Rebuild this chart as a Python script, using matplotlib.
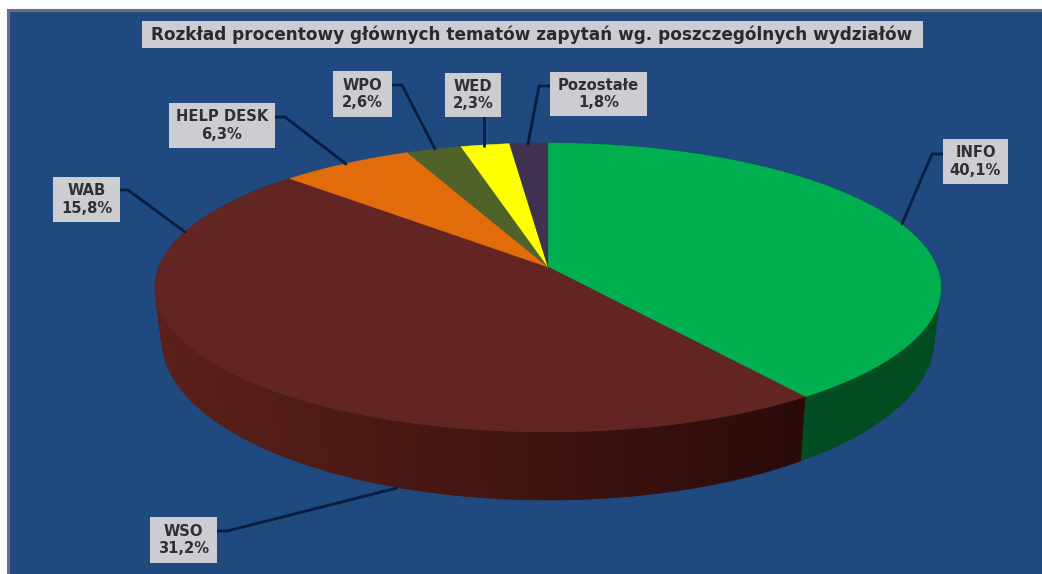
import numpy as np
import matplotlib
matplotlib.use("Agg")
import matplotlib.pyplot as plt
from matplotlib.patches import Polygon, Rectangle

categories = ["INFO", "WSO", "WAB", "HELP DESK", "WPO", "WED", "Pozostałe"]
values = [40.1, 31.2, 15.8, 6.3, 2.6, 2.3, 1.8]
value_labels = ["40,1%", "31,2%", "15,8%", "6,3%", "2,6%", "2,3%", "1,8%"]
top_colors = ["#00b050", "#632523", "#632523", "#e36c0a", "#4f6228", "#ffff00", "#3f3151"]
side_colors = ["#024d22", "#4a1814", "#5a1f19", "#8a4206", "#2f3b18", "#999900", "#261e31"]
title = "Rozkład procentowy głównych tematów zapytań wg. poszczególnych wydziałów"

W, H = 1042, 574
BG = "#1f497f"
fig = plt.figure(figsize=(W / 100, H / 100), dpi=100, facecolor="white")
ax = fig.add_axes([0, 0, 1, 1])
ax.set_xlim(0, W)
ax.set_ylim(H, 0)
ax.axis("off")
ax.add_patch(Rectangle((8, 10), W + 20, H + 20, fc=BG, ec="#6b6f78", lw=2.2, zorder=0))

CX, A = 548, -0.142
TOP = (393, 287.5, 144.5)
BOT = (386, 340, 160)


def project(theta, ell):
    rx, cy, ry = ell
    u, v = np.sin(theta), -np.cos(theta)
    d = 1 + A * v
    return CX + rx * u * np.sqrt(1 - A * A) / d, cy + ry * (v + A) / d


fractions = np.array(values) / sum(values)
edges = np.concatenate([[0], np.cumsum(fractions)]) * 2 * np.pi
apex = (CX, 287.5 + 144.5 * A)

# side wall: front half only, shaded along the arc
for i in [0, 2, 1]:
    ts = np.linspace(edges[i], edges[i + 1], 60)
    for t0, t1 in zip(ts[:-1], ts[1:]):
        x0, y0 = project(t0, TOP)
        x1, y1 = project(t1, TOP)
        x2, y2 = project(t1, BOT)
        x3, y3 = project(t0, BOT)
        if i == 0:
            col = np.array(matplotlib.colors.to_rgb(side_colors[0]))
        else:
            s = np.clip((x0 - 160) / 640, 0, 1)
            col = (1 - s) * np.array([0.36, 0.125, 0.10]) + s * np.array([0.17, 0.045, 0.04])
        ax.add_patch(Polygon([(x0, y0), (x1, y1), (x2, y2), (x3, y3)], fc=col, ec=col, lw=0.5, zorder=1))

# top face
for i, c in enumerate(top_colors):
    ts = np.linspace(edges[i], edges[i + 1], 120)
    px, py = project(ts, TOP)
    ax.add_patch(Polygon([apex] + list(zip(px, py)), fc=c, ec=c, lw=0.3, zorder=2))

line = "#0b1c42"
leaders = {
    "INFO": [(943, 154), (932, 154), (902, 224)],
    "WSO": [(217, 531), (227, 531), (397, 488)],
    "WAB": [(121, 190), (128, 190), (185, 232)],
    "HELP DESK": [(275, 117), (285, 117), (346, 164)],
    "WPO": [(392, 85), (402, 85), (435, 149)],
    "WED": [(484, 117), (484, 146)],
    "Pozostałe": [(550, 86), (539, 86), (528, 144)],
}
boxes = {
    "INFO": (943, 139, 1008, 184),
    "WSO": (150, 517, 217, 563),
    "WAB": (53, 177, 120, 222),
    "HELP DESK": (169, 103, 275, 148),
    "WPO": (333, 71, 392, 117),
    "WED": (445, 73, 501, 117),
    "Pozostałe": (550, 72, 647, 116),
}
FONT = ["DejaVu Sans"]
for name, val in zip(categories, value_labels):
    xs, ys = zip(*leaders[name])
    ax.plot(xs, ys, color=line, lw=2.0, zorder=3, solid_capstyle="round")
    x0, y0, x1, y1 = boxes[name]
    ax.add_patch(Rectangle((x0, y0), x1 - x0, y1 - y0, fc="#cbcdd1", ec="none", zorder=4))
    ax.text((x0 + x1) / 2, (y0 + y1) / 2, f"{name}\n{val}", ha="center", va="center",
            fontsize=10.6, fontweight="bold", color="#303030", family=FONT, linespacing=1.2, zorder=5)

ax.add_patch(Rectangle((142, 21), 781, 27, fc="#cbcdd1", ec="none", zorder=4))
ax.text(532, 35, title, ha="center", va="center", fontsize=12.2, fontweight="bold",
        color="#2a2a2a", family=FONT, zorder=5)

fig.savefig("out.png", dpi=100, facecolor="white")
